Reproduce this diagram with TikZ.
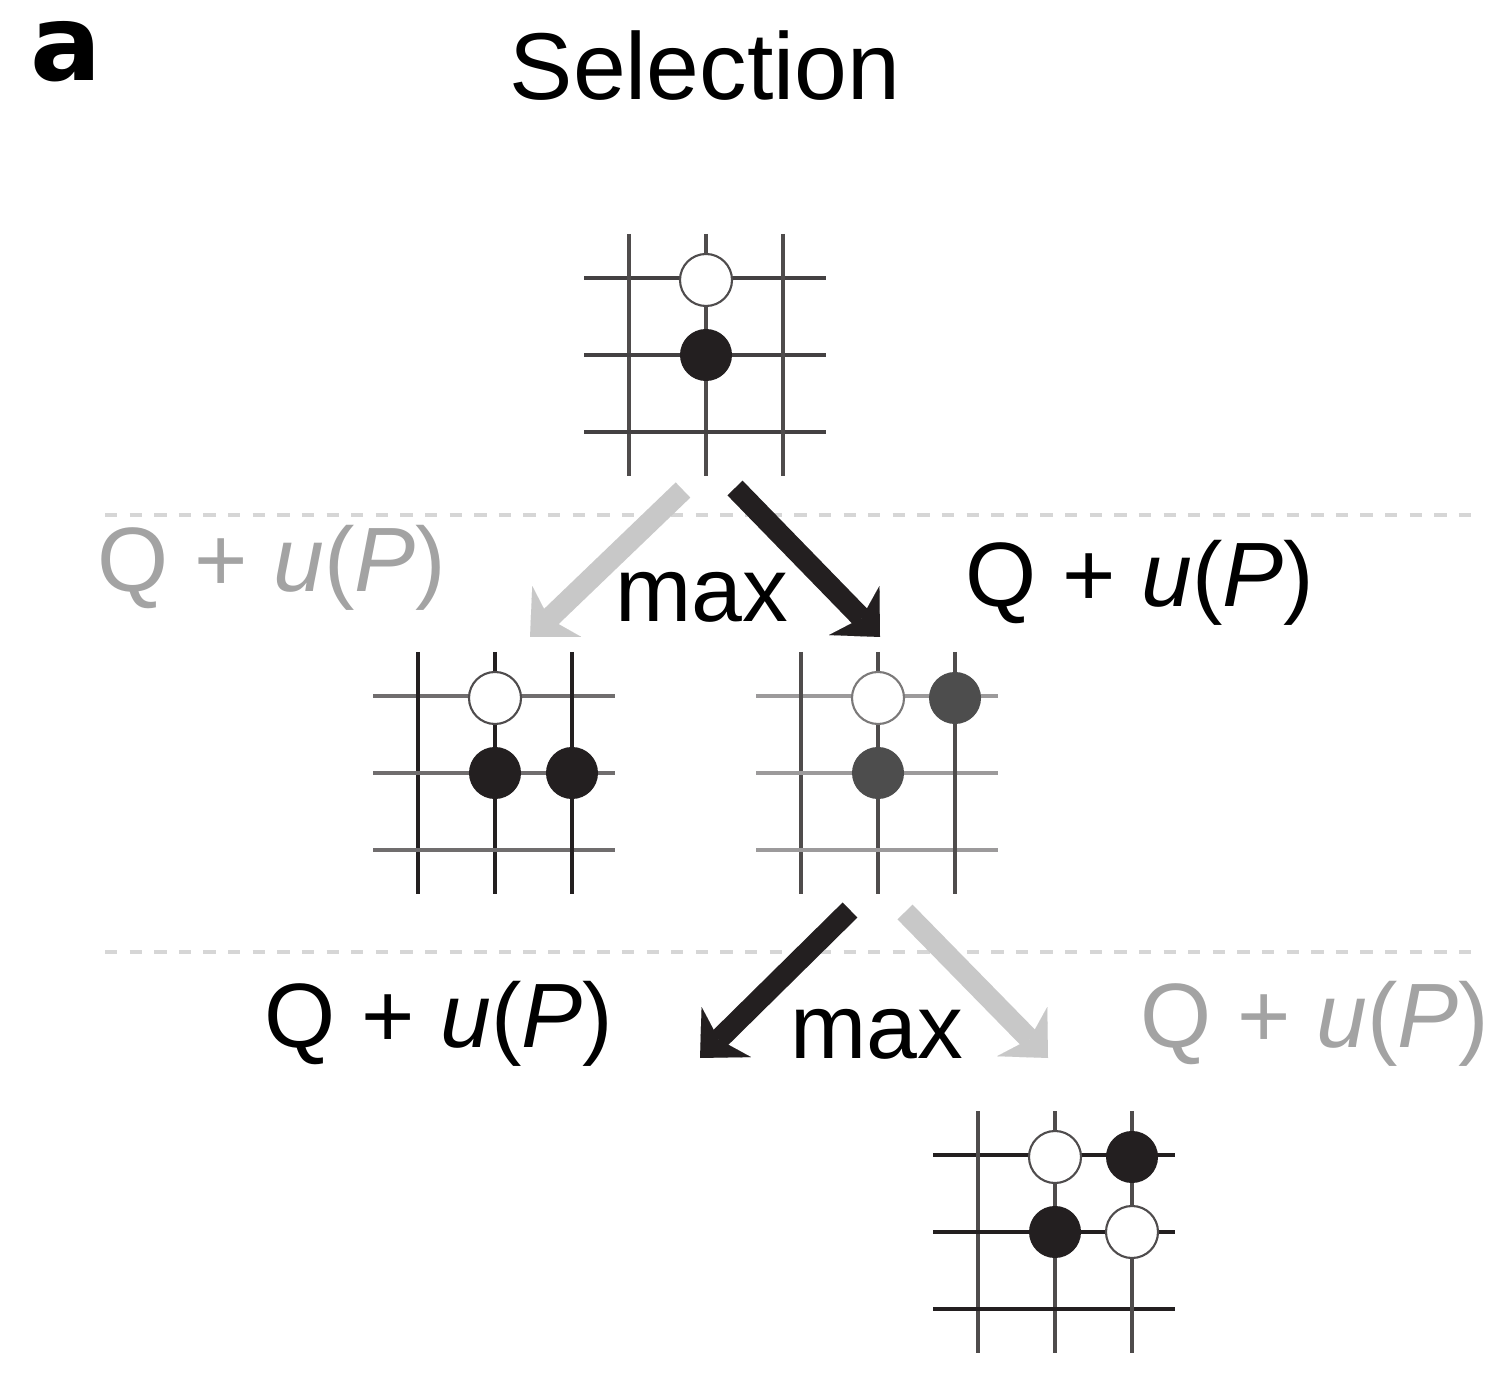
\documentclass[tikz,border=0pt]{standalone}
\usepackage{fontspec}
\setmainfont{Liberation Sans}
\newfontfamily\panelfont{DejaVu Sans}
\usetikzlibrary{arrows.meta}
\definecolor{ink}{HTML}{231F20}
\definecolor{midgray}{HTML}{4D4D4D}
\definecolor{faint}{HTML}{C8C8C8}
\definecolor{softtext}{HTML}{A3A3A3}
\definecolor{dashgray}{HTML}{D6D6D6}
\tikzset{
  lab/.style={font=\fontsize{26}{30}\selectfont, inner sep=0pt, anchor=base},
  wstone/.style={circle, draw=ink!80, line width=0.6pt, fill=white, minimum size=0.52cm, inner sep=0pt},
  bstone/.style={circle, fill=#1, minimum size=0.52cm, inner sep=0pt},
  bstone/.default=ink,
  bigarrow/.style={line width=6pt, -{Stealth[length=10.5pt, width=20pt, inset=3pt, line width=0.01pt]}},
  divider/.style={dashgray, line width=0.9pt, dash pattern=on 3.5pt off 3.5pt}
}

\begin{document}
\begin{tikzpicture}[x=0.01cm, y=-0.01cm]
  \useasboundingbox (0,0) rectangle (1485,1398);

  \node[lab, font=\fontsize{30}{34}\selectfont\panelfont\bfseries](panel) at (66,81) {a};
  \node[lab, font=\fontsize{27}{32}\selectfont](title) at (705,100) {Selection};

  % dashed level separators
  \draw[divider] (105,515) -- (1480,515);
  \draw[divider] (105,952) -- (1480,952);

  % root board
  \begin{scope}[shift={(706,355)}]
    \foreach \i in {-77,0,77} {
      \draw[ink!85, line width=1.1pt] (-122,\i) -- (120,\i);
      \draw[ink!80, line width=1.1pt] (\i,-121) -- (\i,121);
    }
  \end{scope}
  \node[wstone](r1) at (706,280) {};
  \node[bstone](r2) at (706,355) {};

  % left child
  \begin{scope}[shift={(495,773)}]
    \foreach \i in {-77,0,77} {
      \draw[ink!65, line width=1.1pt] (-122,\i) -- (120,\i);
      \draw[ink, line width=1.1pt] (\i,-121) -- (\i,121);
    }
  \end{scope}
  \node[wstone](l1) at (495,698) {};
  \node[bstone](l2) at (495,773) {};
  \node[bstone](l3) at (572,773) {};

  % right child
  \begin{scope}[shift={(878,773)}]
    \foreach \i in {-77,0,77} {
      \draw[ink!45, line width=1.1pt] (-122,\i) -- (120,\i);
      \draw[ink!80, line width=1.1pt] (\i,-121) -- (\i,121);
    }
  \end{scope}
  \node[wstone, draw=ink!60](m1) at (878,698) {};
  \node[bstone=midgray](m2) at (955,698) {};
  \node[bstone=midgray](m3) at (878,773) {};

  % leaf board
  \begin{scope}[shift={(1055,1232)}]
    \foreach \i in {-77,0,77} {
      \draw[ink, line width=1.1pt] (-122,\i) -- (120,\i);
      \draw[ink!80, line width=1.1pt] (\i,-121) -- (\i,121);
    }
  \end{scope}
  \node[wstone](f1) at (1055,1157) {};
  \node[bstone](f2) at (1132,1157) {};
  \node[bstone](f3) at (1055,1232) {};
  \node[wstone](f4) at (1132,1232) {};

  % arrow ends
  \coordinate(rl) at (683,490);
  \coordinate(rr) at (735,488);
  \coordinate(lt) at (530,637);
  \coordinate(mt) at (880,637);
  \coordinate(ml) at (850,910);
  \coordinate(mr) at (905,912);
  \coordinate(dl) at (700,1058);
  \coordinate(dr) at (1048,1058);

  \path[bigarrow, faint] (rl) edge (lt);
  \path[bigarrow, ink] (rr) edge (mt);
  \path[bigarrow, ink] (ml) edge (dl);
  \path[bigarrow, faint] (mr) edge (dr);

  \node[lab, softtext](q1) at (272,592) {Q + \textit{u}(\textit{P})};
  \node[lab](max1) at (702,622) {max};
  \node[lab](q2) at (1140,607) {Q + \textit{u}(\textit{P})};
  \node[lab](q3) at (439,1047) {Q + \textit{u}(\textit{P})};
  \node[lab](max2) at (877,1058) {max};
  \node[lab, softtext](q4) at (1315,1047) {Q + \textit{u}(\textit{P})};
\end{tikzpicture}
\end{document}
